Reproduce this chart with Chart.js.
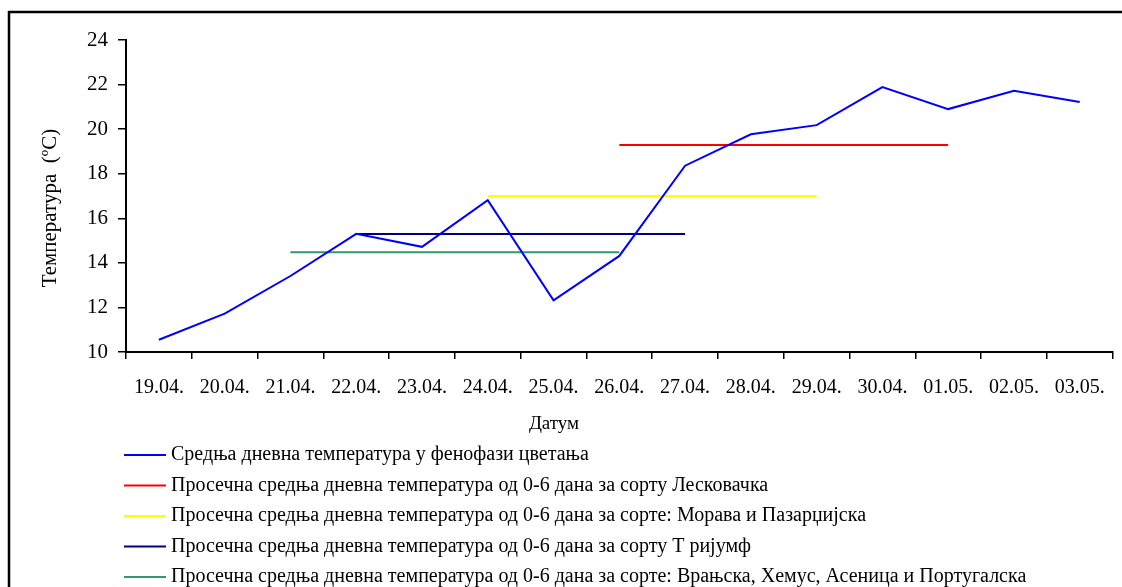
<!DOCTYPE html>
<html lang="sr">
<head>
  <meta charset="UTF-8" />
  <title>Температура у фенофази цветања</title>
  <script src="https://cdn.jsdelivr.net/npm/chart.js@4.4.1/dist/chart.umd.min.js"></script>
  <style>
    html, body { margin: 0; padding: 0; background: #fff; }
    #wrap { width: 1122px; height: 587px; }
  </style>
</head>
<body>
  <div id="wrap"><canvas id="tempChart" width="1122" height="587"></canvas></div>

  <script>
    const dates = ['19.04.', '20.04.', '21.04.', '22.04.', '23.04.', '24.04.', '25.04.', '26.04.',
                   '27.04.', '28.04.', '29.04.', '30.04.', '01.05.', '02.05.', '03.05.'];
    const yTicks = [10, 12, 14, 16, 18, 20, 22, 24];

    // daily mean temperature during flowering
    const dailyMean = [10.55, 11.72, 13.41, 15.30, 14.72, 16.81, 12.32, 14.31,
                       18.36, 19.77, 20.18, 21.89, 20.90, 21.72, 21.22];
    // 0-6 day averages per cultivar group (null = outside the period)
    const avgLeskovacka = [null, null, null, null, null, null, null, 19.29, 19.29, 19.29, 19.29, 19.29, 19.29, null, null];
    const avgMorava     = [null, null, null, null, null, 17.0, 17.0, 17.0, 17.0, 17.0, 17.0, null, null, null, null];
    const avgTrijumf    = [null, null, null, 15.30, 15.30, 15.30, 15.30, 15.30, 15.30, null, null, null, null, null, null];
    const avgVranjska   = [null, null, 14.48, 14.48, 14.48, 14.48, 14.48, 14.48, null, null, null, null, null, null, null];

    const seriesLabels = [
      'Средња дневна температура у фенофази цветања',
      'Просечна средња дневна температура од 0-6 дана за сорту Лесковачка',
      'Просечна средња дневна температура од 0-6 дана за сорте: Морава и Пазарџијска',
      'Просечна средња дневна температура од 0-6 дана за сорту Т ријумф',
      'Просечна средња дневна температура од 0-6 дана за сорте: Врањска, Хемус, Асеница и Португалска'
    ];
    const seriesColors = ['#0000ff', '#ff0000', '#ffff00', '#000080', '#339966'];
    const seriesData = [dailyMean, avgLeskovacka, avgMorava, avgTrijumf, avgVranjska];

    const FONT = '"Liberation Serif", "Times New Roman", serif';

    // outer frame, axis titles and the stacked legend below the plot
    const decorations = {
      id: 'decorations',
      beforeDraw(chart) {
        const ctx = chart.ctx;
        ctx.save();
        ctx.fillStyle = '#fff';
        ctx.fillRect(0, 0, chart.width, chart.height);
        ctx.strokeStyle = '#000';
        ctx.lineWidth = 2.5;
        ctx.strokeRect(9, 12, 1300, 800);
        ctx.restore();
      },
      afterDraw(chart) {
        const ctx = chart.ctx;
        ctx.save();
        ctx.fillStyle = '#000';
        ctx.font = '19px ' + FONT;
        ctx.textAlign = 'center';
        ctx.textBaseline = 'middle';
        ctx.fillText('Датум', 554, 424);

        ctx.font = '21px ' + FONT;
        ctx.translate(50, 208);
        ctx.rotate(-Math.PI / 2);
        ctx.fillText('Температура  (ºC)', 0, 0);
        ctx.restore();

        ctx.save();
        ctx.font = '20px ' + FONT;
        ctx.textAlign = 'left';
        ctx.textBaseline = 'middle';
        chart.data.datasets.forEach((ds, i) => {
          const y = 455 + i * 30.5;
          ctx.strokeStyle = ds.borderColor;
          ctx.lineWidth = 2;
          ctx.beginPath();
          ctx.moveTo(124, y);
          ctx.lineTo(166, y);
          ctx.stroke();
          ctx.fillStyle = '#000';
          ctx.fillText(ds.label, 171, y);
        });
        ctx.restore();
      }
    };

    new Chart(document.getElementById('tempChart'), {
      type: 'line',
      data: {
        labels: dates,
        datasets: seriesData.map((d, i) => ({
          label: seriesLabels[i],
          data: d,
          borderColor: seriesColors[i],
          backgroundColor: seriesColors[i],
          borderWidth: 2,
          pointRadius: 0,
          tension: 0,
          spanGaps: false
        }))
      },
      options: {
        responsive: false,
        animation: false,
        layout: { padding: { left: 0, top: 40, right: 8, bottom: 185 } },
        plugins: {
          legend: { display: false },
          tooltip: { enabled: false }
        },
        scales: {
          x: {
            offset: true,
            grid: { offset: true, drawOnChartArea: false, tickLength: 7, color: '#000', lineWidth: 1.5 },
            border: { color: '#000', width: 2 },
            ticks: { color: '#000', font: { family: FONT, size: 20 }, padding: 17, maxRotation: 0, autoSkip: false },
            afterFit: s => { s.height = 50; }
          },
          y: {
            min: yTicks[0],
            max: yTicks[yTicks.length - 1],
            afterBuildTicks: s => { s.ticks = yTicks.map(v => ({ value: v })); },
            grid: { drawOnChartArea: false, tickLength: 8, color: '#000', lineWidth: 1.5 },
            border: { color: '#000', width: 2 },
            ticks: { color: '#000', font: { family: FONT, size: 21 }, padding: 10 },
            afterFit: s => { s.width = 126; }
          }
        }
      },
      plugins: [decorations]
    });
  </script>
</body>
</html>
